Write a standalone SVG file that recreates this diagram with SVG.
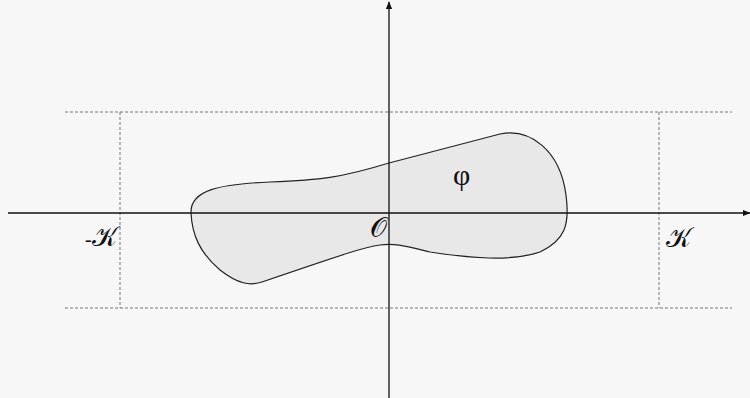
<svg xmlns="http://www.w3.org/2000/svg" width="750" height="398" viewBox="0 0 750 398">
<style>
.axis{stroke:#111;stroke-width:1.3;fill:none}
.dash{stroke:#555;stroke-width:0.8;stroke-dasharray:3,2;fill:none}
.lbl{font-family:"DejaVu Serif","Liberation Serif",serif;font-size:27px;fill:#111}
</style>
<defs>
<marker id="ah" viewBox="0 0 10 10" refX="9" refY="5" markerWidth="8" markerHeight="8" markerUnits="userSpaceOnUse" orient="auto">
<path d="M0,1 L10,5 L0,9 Z" fill="#111"/>
</marker>
</defs>
<rect width="750" height="398" fill="#f7f7f7"/>
<g id="guides">
<line class="dash" x1="65" y1="112" x2="732" y2="112"/>
<line class="dash" x1="65" y1="308" x2="732" y2="308"/>
<line class="dash" x1="120" y1="112" x2="120" y2="308"/>
<line class="dash" x1="659" y1="112" x2="659" y2="308"/>
</g>
<g id="region">
<path d="M191,213 C190,190 220,184 270,182 C320,180 340,178 389,163 L500,134 C530,128 560,150 566,195 C570,225 565,240 540,252 C510,262 470,258 430,252 C405,246 395,243 380,245 C365,247 350,252 262,282 C250,286 238,284 220,270 C200,253 192,235 191,213 Z" fill="#e8e8e8" stroke="#222" stroke-width="1.2"/>
</g>
<g id="axes">
<line class="axis" x1="8" y1="213" x2="750" y2="213" marker-end="url(#ah)"/>
<line class="axis" x1="389" y1="398" x2="389" y2="2" marker-end="url(#ah)"/>
</g>
<g id="labels">
<text class="lbl" x="85" y="246"><tspan font-size="20" font-family="Liberation Serif, serif">-</tspan>𝒦</text>
<text class="lbl" x="666" y="247">𝒦</text>
<text class="lbl" x="370" y="237">𝒪</text>
<text x="453" y="185" font-family="Liberation Serif, serif" font-size="30" fill="#111">φ</text>
</g>
</svg>
